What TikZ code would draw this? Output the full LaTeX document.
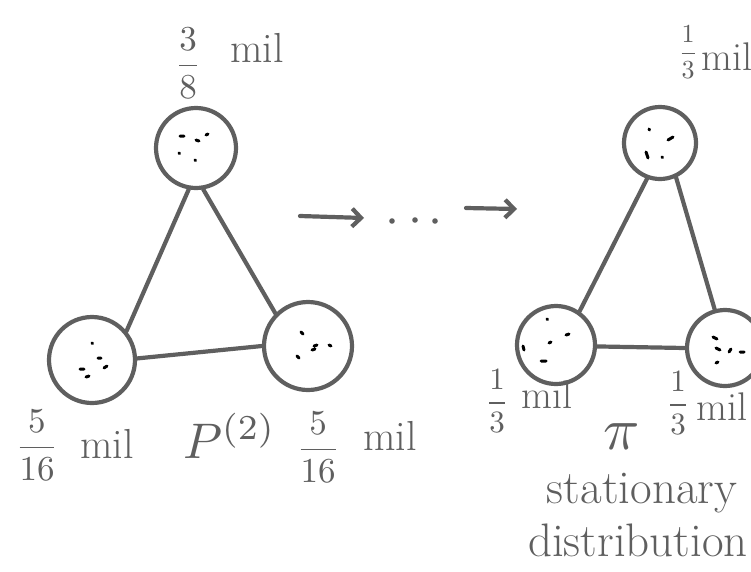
\documentclass[tikz,border=0pt]{standalone}
\usepackage{graphicx}
\usepackage{amsmath}
\usetikzlibrary{arrows.meta}
\definecolor{inkgray}{RGB}{95,95,95}
\begin{document}
\begin{tikzpicture}[x=1pt,y=-1pt,
  ink/.style={draw=inkgray, line width=4.2pt, line cap=round, line join=round},
  state/.style={circle, ink, minimum size=#1, inner sep=0pt},
  lbl/.style={text=inkgray, inner sep=0pt, font=\fontsize{42}{42}\selectfont},
  smalllbl/.style={text=inkgray, inner sep=0pt, font=\fontsize{40}{40}\selectfont},
  biglbl/.style={text=inkgray, inner sep=0pt, font=\fontsize{47}{47}\selectfont},
  frac/.style={text=inkgray, inner sep=0pt},
  speck/.style={draw=black, line width=3pt, line cap=round},
  barb/.style={ink, -{Straight Barb[length=9pt,width=18pt,line width=4.2pt]}}]
\clip (0,0) rectangle (751,571);
\useasboundingbox (0,0) rectangle (751,571);

% states, left chain
\node[state=80pt] (a) at (196,148) {};
\node[state=86pt] (b) at (92,360) {};
\node[state=88pt] (c) at (308,346) {};
% states, right chain
\node[state=72pt] (d) at (660,143) {};
\node[state=78pt] (e) at (556,345) {};
\node[state=76pt] (f) at (725,348) {};

% edges
\draw[ink] (a.260) -- (b.40);
\draw[ink] (a.280) -- (c.135);
\draw[ink] (b.2) -- (c.180);
\draw[ink] (d.250) -- (e.55);
\draw[ink] (d.295) -- (f.105);
\draw[ink] (e.358) -- (f.180);

% specks inside the states
\draw[speck] (180,136) -- (184,136) (196,140) -- (199,141) (206,135) -- (208,134) (179,153) -- (179.5,153.5) (195,160) -- (195.5,160.5);
\draw[speck] (92,343) -- (92.5,343.5) (98,358) -- (101,358) (80,369) -- (84,369) (104,368) -- (107,366) (86,377) -- (89,376);
\draw[speck] (301,332) -- (303,334) (314,346) -- (317,345) (329,345) -- (331,346) (312,350) -- (315,349) (297,356) -- (299,358);
\draw[speck] (649,129) -- (649.5,130) (668,140) -- (673,137) (646,152) -- (648,158) (662,157) -- (662.5,157.5);
\draw[speck] (547,319) -- (547.5,319.5) (566,335) -- (569,334) (549,343) -- (551,342) (523,346) -- (524,350) (541,361) -- (546,361);
\draw[speck] (713,337) -- (717,339) (716,348) -- (720,350) (729,352) -- (731,349) (740,352) -- (744,352) (716,363) -- (718,362);

% arrows and dots
\coordinate (s1) at (300,216);
\coordinate (t1) at (364,218);
\coordinate (s2) at (466,208);
\coordinate (t2) at (517,209);
\draw[barb] (s1) -- (t1);
\draw[barb] (s2) -- (t2);
\fill[inkgray] (392,221) circle (2.8pt) (415,220) circle (2.8pt) (435,221) circle (2.8pt);

% labels, left
\node[frac] (la) at (188,63) {\scalebox{3.5}{$\dfrac{3}{8}$}};
\node[lbl, anchor=base west] (ma) at (230,62) {mil};
\node[frac] (lb) at (37,445) {\scalebox{3.5}{$\dfrac{5}{16}$}};
\node[lbl, anchor=base west] (mb) at (80,458) {mil};
\node[frac, anchor=base west] (p2) at (183,458) {\scalebox{5}{$P^{(2)}$}};
\node[frac] (lc) at (318,447) {\scalebox{3.5}{$\dfrac{5}{16}$}};
\node[lbl, anchor=base west] (mc) at (363,450) {mil};

% labels, right
\node[frac] (ld) at (688,52) {\scalebox{2.6}{$\dfrac{1}{3}$}};
\node[smalllbl, anchor=base west] (md) at (701,70) {mil};
\node[frac] (le) at (497,401) {\scalebox{3.1}{$\dfrac{1}{3}$}};
\node[smalllbl, anchor=base west] (me) at (521,408) {mil};
\node[frac] (lf) at (678,403) {\scalebox{3.1}{$\dfrac{1}{3}$}};
\node[smalllbl, anchor=base west] (mf) at (696,420) {mil};
\node[frac] (pi) at (622,437) {\scalebox{6}{$\pi$}};
\node[biglbl, anchor=base] (st) at (642,503) {stationary};
\node[biglbl, anchor=base] (di) at (638,556) {distribution};
\end{tikzpicture}
\end{document}
